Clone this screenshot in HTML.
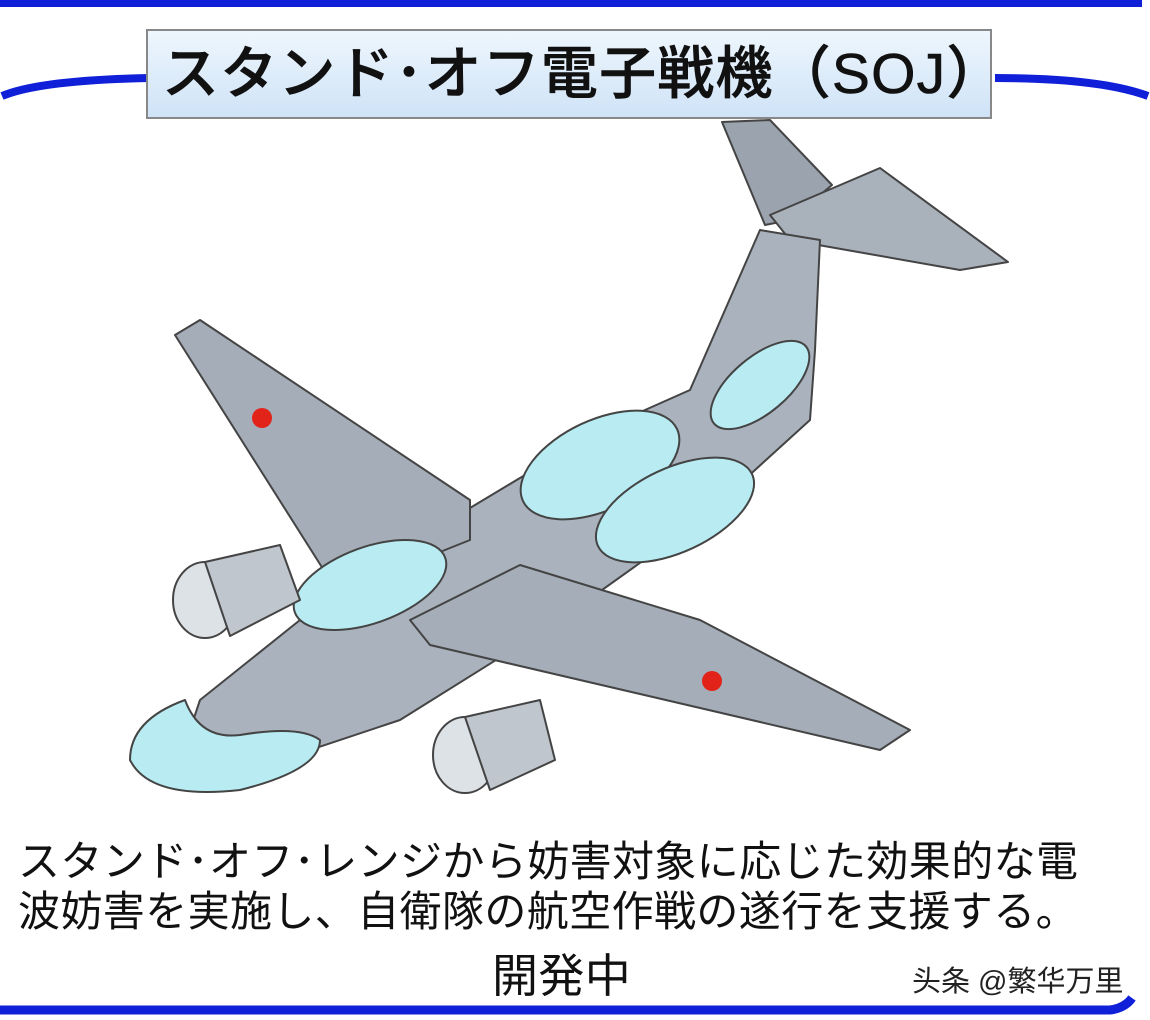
<!DOCTYPE html>
<html><head><meta charset="utf-8"><style>
body{margin:0;width:1150px;height:1020px;background:#fff;position:relative;overflow:hidden;font-family:"Liberation Sans","Noto Sans CJK JP",sans-serif}
.title{position:absolute;left:146px;top:29px;width:846px;height:90px;border:2px solid #888;box-sizing:border-box;background:linear-gradient(#eef6fd,#cfe3f7);font-size:57px;line-height:86px;padding-left:14px;color:#111;white-space:nowrap;letter-spacing:1.2px;font-weight:500;-webkit-text-stroke:0.6px #111}
.txt{position:absolute;left:18px;font-size:42px;color:#111;white-space:nowrap;letter-spacing:0.4px}
</style></head><body>
<svg width="1150" height="1020" style="position:absolute;left:0;top:0">
<rect x="0" y="0" width="1142" height="7" fill="#1020d8"/>
<path d="M2 96 Q40 80 150 78" stroke="#1020d8" stroke-width="8" fill="none"/>
<path d="M995 78 Q1100 78 1148 96" stroke="#1020d8" stroke-width="8" fill="none"/>
<path d="M0 1010 L1110 1010 Q1125 1008 1132 998" stroke="#1020d8" stroke-width="9" fill="none"/>
<g stroke="#444" stroke-width="2" stroke-linejoin="round">
<polygon points="722,122 770,120 832,185 790,220 765,225" fill="#9aa3ae"/>
<polygon points="770,215 880,168 1008,262 960,270 790,240" fill="#a9b1bb"/>
<polygon points="760,230 820,240 815,350 810,420 700,520 560,620 400,720 250,770 185,745 200,700 300,620 450,520 600,430 690,390" fill="#aab3bd"/>
<polygon points="175,335 200,320 470,500 470,540 420,560 330,580" fill="#a4adb8"/>
<polygon points="410,620 520,565 700,620 910,730 880,750 430,645" fill="#a4adb8"/>
<ellipse cx="600" cy="465" rx="85" ry="45" fill="#b8ecf2" transform="rotate(-25 600 465)"/>
<ellipse cx="675" cy="510" rx="85" ry="42" fill="#b8ecf2" transform="rotate(-25 675 510)"/>
<ellipse cx="370" cy="585" rx="80" ry="38" fill="#b8ecf2" transform="rotate(-20 370 585)"/>
<ellipse cx="760" cy="385" rx="60" ry="28" fill="#b8ecf2" transform="rotate(-40 760 385)"/>
<path d="M185 700 Q130 720 130 760 Q150 800 240 790 Q320 770 320 740 Q300 725 240 735 Q200 740 185 700Z" fill="#b8ecf2"/>
<ellipse cx="205" cy="600" rx="32" ry="38" fill="#dde2e6"/>
<polygon points="205,562 280,545 300,600 230,636" fill="#bfc6cd"/>
<ellipse cx="465" cy="755" rx="32" ry="38" fill="#dde2e6"/>
<polygon points="465,717 540,700 555,760 490,790" fill="#bfc6cd"/>
</g>
<circle cx="262" cy="418" r="10" fill="#e2231a"/>
<circle cx="712" cy="681" r="10" fill="#e2231a"/>
</svg>
<div class="title">スタンド･オフ電子戦機（SOJ）</div>
<div class="txt" style="top:828px">スタンド･オフ･レンジから妨害対象に応じた効果的な電</div>
<div class="txt" style="top:878px">波妨害を実施し、自衛隊の航空作戦の遂行を支援する。</div>
<div class="txt" style="top:940px;left:492px;font-size:46px">開発中</div>
<div class="txt" style="top:958px;left:912px;font-size:29px;color:#222;letter-spacing:0">头条 @繁华万里</div>
</body></html>
